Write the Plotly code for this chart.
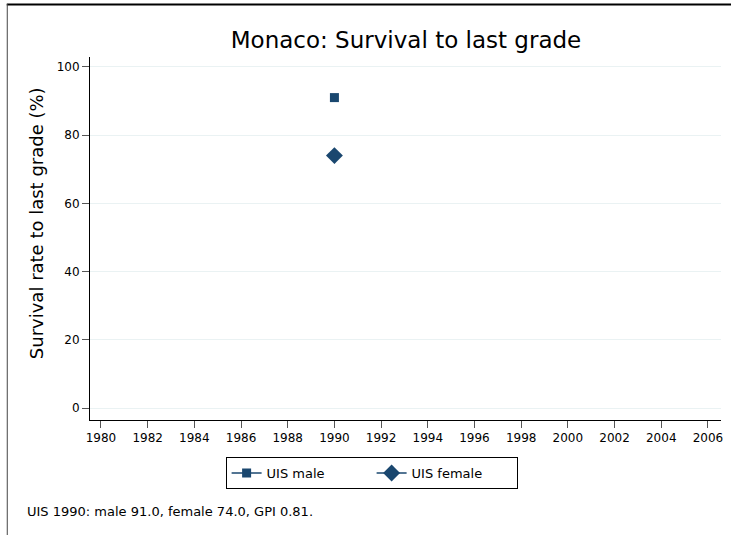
import plotly.graph_objects as go

years_male = [1990]
values_male = [91.0]
years_female = [1990]
values_female = [74.0]
x_ticks = list(range(1980, 2007, 2))
y_ticks = [0, 20, 40, 60, 80, 100]
title = "Monaco: Survival to last grade"
y_title = "Survival rate to last grade (%)"
note = "UIS 1990: male 91.0, female 74.0, GPI 0.81."

navy = "#1a476f"
W, H = 731, 535
L, R, T, B = 90, 8, 57, 115
pw, ph = W - L - R, H - T - B

def px(x):
    return (x - L) / pw

def py(y):
    return (H - B - y) / ph

fig = go.Figure()
fig.add_trace(go.Scatter(x=years_male, y=values_male, mode="lines+markers", name="UIS male",
                         marker=dict(symbol="square", size=9, color=navy),
                         line=dict(color=navy, width=1.5)))
fig.add_trace(go.Scatter(x=years_female, y=values_female, mode="lines+markers", name="UIS female",
                         marker=dict(symbol="diamond", size=13, color=navy),
                         line=dict(color=navy, width=1.5)))

fig.update_layout(
    width=W, height=H,
    margin=dict(l=L, r=R, t=T, b=B),
    paper_bgcolor="white", plot_bgcolor="white",
    font=dict(family="DejaVu Sans, sans-serif", color="#000"),
    title=dict(text=title, x=406 / W, xanchor="center", y=1 - 40 / H, yanchor="middle",
               font=dict(size=23, color="#000")),
    showlegend=True,
    legend=dict(orientation="h", x=px(372.5), xanchor="center", y=py(457), yanchor="top",
                bordercolor="#000", borderwidth=1, bgcolor="white",
                font=dict(size=13), entrywidth=100, entrywidthmode="pixels"),
    xaxis=dict(range=[1979.53, 2006.56], tickvals=x_ticks, ticks="outside", ticklen=7,
               tickcolor="#555", showline=True, linecolor="#000", linewidth=1,
               showgrid=False, zeroline=False, tickfont=dict(size=12)),
    yaxis=dict(range=[-3.5, 102.9], tickvals=y_ticks, ticks="outside", ticklen=7,
               tickcolor="#555", showline=True, linecolor="#000", linewidth=1,
               showgrid=True, gridcolor="#eaf2f3", gridwidth=1, zeroline=False,
               tickfont=dict(size=12)),
    shapes=[
        dict(type="rect", xref="paper", yref="paper", x0=px(6.5), x1=px(W + 30),
             y0=py(5.5), y1=py(3.5), line=dict(width=0), fillcolor="#000", layer="above"),
        dict(type="rect", xref="paper", yref="paper", x0=px(6.5), x1=px(7.5),
             y0=py(H + 30), y1=py(4), line=dict(width=0), fillcolor="#444", layer="above"),
    ],
    annotations=[
        dict(text=note, xref="paper", yref="paper", x=px(25), y=py(512),
             xanchor="left", yanchor="middle", showarrow=False, font=dict(size=13)),
        dict(text=y_title, xref="paper", yref="paper", x=px(37), y=py(223),
             xanchor="center", yanchor="middle", textangle=-90, showarrow=False,
             font=dict(size=18)),
    ],
)

fig.write_html("out.html", config={"displayModeBar": False},
               post_script="document.body.style.margin='0';document.body.style.overflow='hidden';")
